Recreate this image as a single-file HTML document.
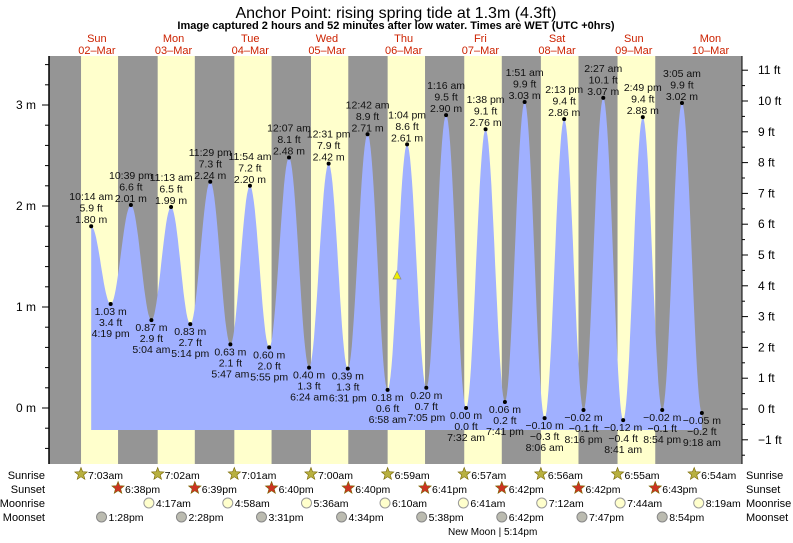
<!DOCTYPE html>
<html><head><meta charset="utf-8"><style>
body{margin:0;background:#fff;width:793px;height:538px;overflow:hidden}
svg{font-family:"Liberation Sans",sans-serif}
</style></head><body>
<svg id="s" width="793" height="538" xmlns="http://www.w3.org/2000/svg"></svg>
<script>
const X=t=>58.5+t*3.196, Y=m=>408-m*101;
const L=49,R=742,T=56,B=464;
let o='';
o+=`<text x="396" y="18" font-size="16" text-anchor="middle">Anchor Point: rising  spring tide at 1.3m (4.3ft)</text>`;
o+=`<text x="396" y="29" font-size="11" font-weight="bold" text-anchor="middle">Image captured 2 hours and 52 minutes after low water. Times are WET (UTC +0hrs)</text>`;
const sr=[7.05,7.033,7.017,7,6.983,6.95,6.933,6.917,6.9];
const ss=[18.633,18.65,18.667,18.667,18.683,18.7,18.7,18.717];
o+=`<rect x="${L}" y="${T}" width="${R-L}" height="${B-T}" fill="#959595"/>`;
for(let d=0;d<8;d++){const a=X(d*24+sr[d]),b=X(d*24+ss[d]);o+=`<rect x="${a}" y="${T}" width="${b-a}" height="${B-T}" fill="#ffffcc"/>`;}
const days=['Sun','Mon','Tue','Wed','Thu','Fri','Sat','Sun','Mon'];
for(let d=0;d<9;d++){const x=X(d*24+12);o+=`<text x="${x}" y="42" font-size="11" fill="#cc2200" text-anchor="middle">${days[d]}</text><text x="${x}" y="54" font-size="11" fill="#cc2200" text-anchor="middle">${String(d+2).padStart(2,'0')}–Mar</text>`;}
const E=[[10.23,1.80,'10:14 am',5.9],[16.32,1.03,'4:19 pm',3.4],[22.65,2.01,'10:39 pm',6.6],[29.07,.87,'5:04 am',2.9],[35.22,1.99,'11:13 am',6.5],[41.23,.83,'5:14 pm',2.7],[47.48,2.24,'11:29 pm',7.3],[53.78,.63,'5:47 am',2.1],[59.9,2.20,'11:54 am',7.2],[65.92,.60,'5:55 pm',2.0],[72.12,2.48,'12:07 am',8.1],[78.4,.40,'6:24 am',1.3],[84.52,2.42,'12:31 pm',7.9],[90.52,.39,'6:31 pm',1.3],[96.7,2.71,'12:42 am',8.9],[102.97,.18,'6:58 am',0.6],[109.07,2.61,'1:04 pm',8.6],[115.08,.20,'7:05 pm',0.7],[121.27,2.90,'1:16 am',9.5],[127.53,0,'7:32 am',0.0],[133.63,2.76,'1:38 pm',9.1],[139.68,.06,'7:41 pm',0.2],[145.85,3.03,'1:51 am',9.9],[152.1,-.10,'8:06 am',-0.3],[158.22,2.86,'2:13 pm',9.4],[164.27,-.02,'8:16 pm',-0.1],[170.45,3.07,'2:27 am',10.1],[176.68,-.12,'8:41 am',-0.4],[182.82,2.88,'2:49 pm',9.4],[188.9,-.02,'8:54 pm',-0.1],[195.08,3.02,'3:05 am',9.9],[201.3,-.05,'9:18 am',-0.2]];
let p=`M${X(E[0][0])},430 `;
for(let i=0;i<E.length-1;i++){const[a,h1]=E[i],[b,h2]=E[i+1];for(let k=0;k<=20;k++){const f=k/20,t=a+(b-a)*f,h=h1+(h2-h1)*(1-Math.cos(Math.PI*f))/2;p+=`L${X(t).toFixed(1)},${Y(h).toFixed(1)} `;}}
p+=`L${X(E[E.length-1][0])},430Z`;
o+=`<path d="${p}" fill="#a0b0ff"/>`;
const fm=v=>(v<0?'−':'')+Math.abs(v).toFixed(1);
E.forEach((e,i)=>{const x=X(e[0]),y=Y(e[1]);o+=`<circle cx="${x}" cy="${y}" r="2" fill="#000"/>`;
const m=(e[1]<0?'−':'')+Math.abs(e[1]).toFixed(2)+' m',f=fm(e[3])+' ft';
const s=`font-size="10.5" text-anchor="middle" fill="#111"`;
if(i%2==0){o+=`<text x="${x}" y="${y-26}" ${s}>${e[2]}</text><text x="${x}" y="${y-14.5}" ${s}>${f}</text><text x="${x}" y="${y-3}" ${s}>${m}</text>`;}
else{o+=`<text x="${x}" y="${y+11}" ${s}>${m}</text><text x="${x}" y="${y+22}" ${s}>${f}</text><text x="${x}" y="${y+33}" ${s}>${e[2]}</text>`;}});
o+=`<polygon points="393,279 397,271 401,279" fill="#eeee00" stroke="#888" stroke-width=".7"/>`;
o+=`<line x1="${L}" y1="${T}" x2="${L}" y2="${B}" stroke="#000" stroke-width="1.5"/><line x1="${R}" y1="${T}" x2="${R}" y2="${B}" stroke="#000"/>`;
for(let m=-1.2;m<=3.5;m+=0.2){const y=Y(m);if(y<T||y>B)continue;const maj=Math.abs(m-Math.round(m))<.01;o+=`<line x1="${maj?42:45}" y1="${y}" x2="${L}" y2="${y}" stroke="#000"/>`;if(maj)o+=`<text x="36" y="${y+4}" font-size="12" text-anchor="end">${Math.round(m)} m</text>`;}
for(let f=-2;f<=12;f+=.5){const y=409-f*30.8;if(y<T||y>B)continue;const maj=f%1==0;o+=`<line x1="${R}" y1="${y}" x2="${R+(maj?6:3)}" y2="${y}" stroke="#000"/>`;if(maj)o+=`<text x="758" y="${y+4}" font-size="12">${f<0?'−'+(-f):f} ft</text>`;}
const star=(x,y,c)=>{let pts='';for(let i=0;i<10;i++){const r=i%2?2.8:6.5,a=-Math.PI/2+i*Math.PI/5;pts+=`${(x+r*Math.cos(a)).toFixed(1)},${(y+r*Math.sin(a)).toFixed(1)} `;}return `<polygon points="${pts}" fill="${c}" stroke="#776600" stroke-width=".6"/>`;};
const rows=[['Sunrise',475],['Sunset',489],['Moonrise',503],['Moonset',517]];
rows.forEach(r=>{o+=`<text x="45" y="${r[1]+4}" font-size="11" text-anchor="end">${r[0]}</text><text x="746" y="${r[1]+4}" font-size="11">${r[0]}</text>`;});
const txt=(x,y,s)=>`<text x="${x+7}" y="${y+4}" font-size="10.5">${s}</text>`;
const srT=['7:03am','7:02am','7:01am','7:00am','6:59am','6:57am','6:56am','6:55am','6:54am'];
sr.forEach((h,d)=>{const x=X(d*24+h);o+=star(x,474,'#b8b040')+txt(x,475,srT[d]);});
const ssT=['6:38pm','6:39pm','6:40pm','6:40pm','6:41pm','6:42pm','6:42pm','6:43pm'];
ss.forEach((h,d)=>{const x=X(d*24+h);o+=star(x,488,'#cc3322')+txt(x,489,ssT[d]);});
const mr=[[4.283,'4:17am'],[4.967,'4:58am'],[5.6,'5:36am'],[6.167,'6:10am'],[6.683,'6:41am'],[7.2,'7:12am'],[7.733,'7:44am'],[8.317,'8:19am']];
mr.forEach((m,i)=>{const x=X((i+1)*24+m[0]);o+=`<circle cx="${x}" cy="503" r="5" fill="#ffffcc" stroke="#999"/>`+txt(x,503,m[1]);});
const ms=[[13.467,'1:28pm'],[14.467,'2:28pm'],[15.517,'3:31pm'],[16.567,'4:34pm'],[17.633,'5:38pm'],[18.7,'6:42pm'],[19.783,'7:47pm'],[20.9,'8:54pm']];
ms.forEach((m,i)=>{const x=X(i*24+m[0]);o+=`<circle cx="${x}" cy="517" r="5" fill="#bbbbb0" stroke="#888"/>`+txt(x,517,m[1]);});
o+=`<text x="448" y="535" font-size="10">New Moon | 5:14pm</text>`;
document.getElementById('s').innerHTML=o;
</script>
</body></html>
